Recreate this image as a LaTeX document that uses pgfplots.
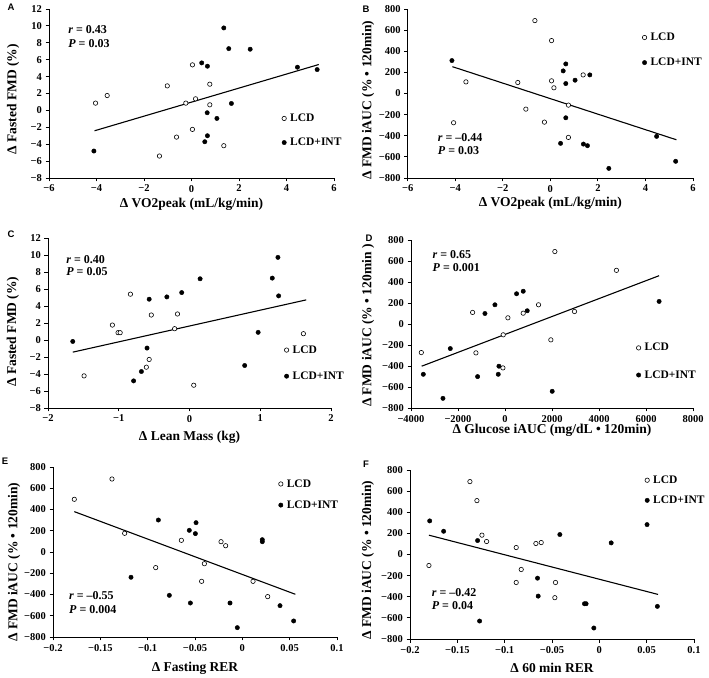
\documentclass[border=0pt]{standalone}
\usepackage{pgfplots}
\pgfplotsset{compat=1.18}
\usepackage{fontspec}
\setmainfont{Liberation Serif}
\setsansfont{Liberation Sans}

\tikzset{st/.style={anchor=west, font=\bfseries\fontsize{12}{14}\selectfont, inner sep=0pt}}
\pgfplotsset{
  pan/.style={
    scale only axis, axis lines*=left, tick align=outside,
    major tick length=3.5pt,
    axis line style={line width=0.9pt},
    every tick/.style={black, line width=0.9pt},
    ticklabel style={font=\bfseries\fontsize{10.5}{12}\selectfont},
    label style={font=\bfseries\fontsize{13.5}{16}\selectfont},
    legend style={draw=none, fill=none, font=\bfseries\fontsize{11.5}{13}\selectfont,
      inner sep=0pt, nodes={inner sep=1pt}, anchor=west, xshift=-4pt},
    legend cell align=left,
    legend image code/.code={\path[draw=none,fill=none] (0pt,-1pt) (8pt,1pt);
      \draw[mark repeat=2,mark phase=2,##1] plot coordinates {(0pt,0pt)(3pt,0pt)(6pt,0pt)};},
    clip=false,
  },
  xl/.style={xlabel style={at={(axis description cs:0.5,#1)},anchor=center}},
  yl/.style 2 args={ylabel style={at={(axis description cs:#1,#2)},anchor=center}},
  op/.style={only marks, mark=*, mark size=2.2pt, mark options={fill=white, draw=black, line width=0.6pt}},
  cl/.style={only marks, mark=*, mark size=2.2pt, mark options={fill=black, draw=black}},
  fit/.style={black, line width=1.1pt, no marks},
  vo/.style={xmin=-6, xmax=6, xtick={-6,-4,...,6}, xticklabels={−6,−4,−2,0,2,4,6},
    xlabel={Δ VO2peak (mL/kg/min)}},
  fmd/.style={ymin=-8, ymax=12, ytick={-8,-6,...,12}, yticklabels={−8,−6,−4,−2,0,2,4,6,8,10,12},
    ylabel={Δ Fasted FMD (\%)}},
  auc/.style={ymin=-800, ymax=800, ytick={-800,-600,...,800},
    yticklabels={−800,−600,−400,−200,0,200,400,600,800}},
  rer/.style={xmin=-0.2, xmax=0.1, xtick={-0.2,-0.15,-0.1,-0.05,0,0.05,0.1},
    xticklabels={−0.2,−0.15,−0.1,−0.05,0,0.05,0.1}},
}

\begin{document}
\begin{tikzpicture}
\path[use as bounding box] (0pt,0pt) rectangle (709pt,677pt);

% A
\begin{axis}[pan, vo, fmd, at={(49pt,499pt)}, anchor=south west, width=285pt, height=169pt,
  xl=-0.154, yl={-0.126}{0.467},
  legend style={at={(axis description cs:0.828,0.281)}, row sep=13pt}]
\addplot[op] coordinates {(-4.04,0.86) (-3.55,1.76) (-1.02,2.9) (0.04,5.39) (-0.24,0.86) (0.17,1.37)
  (0.77,3.1) (0.77,0.66) (0.04,-2.25) (-0.63,-3.16) (-1.35,-5.4) (1.36,-4.18)};
\addplot[cl] coordinates {(-4.11,-4.81) (1.36,9.76) (1.57,7.31) (2.47,7.24) (0.43,5.62) (0.67,5.23)
  (4.46,5.11) (5.29,4.83) (1.68,0.82) (0.66,-0.28) (1.07,-0.95) (0.67,-3.0) (0.56,-3.71)};
\addplot[fit] coordinates {(-4.08,-2.41) (5.36,5.43)};
\legend{LCD,LCD+INT}
\node[st] at (axis description cs:0.067,0.876) {\textit{r} = 0.43};
\node[st] at (axis description cs:0.067,0.797) {\textit{P} = 0.03};
\end{axis}

% B
\begin{axis}[pan, vo, auc, at={(407.7pt,499pt)}, anchor=south west, width=285.3pt, height=169pt,
  ylabel={Δ FMD iAUC (\% • 120min)},
  xl=-0.15, yl={-0.139}{0.46},
  legend style={at={(axis description cs:0.833,0.757)}, row sep=14pt}]
\addplot[op] coordinates {(-0.65,690) (0.05,501) (-3.55,110) (-1.37,104) (0.05,120) (0.15,54)
  (-1.03,-148) (-0.25,-271) (-4.07,-277) (0.76,-110) (0.76,-416) (1.38,176)};
\addplot[cl] coordinates {(-4.14,312) (0.65,280) (0.54,214) (0.65,94) (1.04,126) (1.66,176)
  (0.65,-230) (0.43,-472) (1.39,-479) (1.56,-494) (4.47,-406) (2.46,-709) (5.27,-642)};
\addplot[fit] coordinates {(-4.12,254) (5.3,-438)};
\legend{LCD,LCD+INT}
\node[st] at (axis description cs:0.105,0.238) {\textit{r} = –0.44};
\node[st] at (axis description cs:0.105,0.162) {\textit{P} = 0.03};
\end{axis}

% C
\begin{axis}[pan, fmd, at={(48pt,269pt)}, anchor=south west, width=283pt, height=170pt,
  xmin=-2, xmax=2, xtick={-2,-1,...,2}, xticklabels={−2,−1,0,1,2},
  xlabel={Δ Lean Mass (kg)},
  xl=-0.175, yl={-0.124}{0.449},
  legend style={at={(axis description cs:0.846,0.264)}, row sep=15pt}]
\addplot[op] coordinates {(-0.835,5.39) (-1.09,1.76) (-1.01,0.86) (-0.98,0.86) (-0.54,2.94) (-0.17,3.06)
  (-0.21,1.33) (-0.57,-2.29) (-0.61,-3.2) (-1.49,-4.22) (0.06,-5.32) (1.61,0.74)};
\addplot[cl] coordinates {(-1.65,-0.17) (-0.57,4.8) (-0.32,5.07) (-0.11,5.58) (0.15,7.2) (1.25,9.72)
  (1.17,7.28) (1.26,5.19) (-0.6,-0.95) (-0.68,-3.71) (-0.79,-4.81) (0.97,0.9) (0.78,-3.0)};
\addplot[fit] coordinates {(-1.65,-1.43) (1.65,4.72)};
\legend{LCD,LCD+INT}
\node[st] at (axis description cs:0.064,0.875) {\textit{r} = 0.40};
\node[st] at (axis description cs:0.064,0.8) {\textit{P} = 0.05};
\end{axis}

% D
\begin{axis}[pan, auc, at={(411pt,269pt)}, anchor=south west, width=282pt, height=168pt,
  xmin=-4000, xmax=8000, xtick={-4000,-2000,...,8000},
  xticklabels={−4000,−2000,0,2000,4000,6000,8000},
  xlabel={Δ Glucose iAUC (mg/dL • 120min)},
  ylabel={Δ FMD iAUC (\% • 120min )},
  xl=-0.132, yl={-0.152}{0.49},
  legend style={at={(axis description cs:0.81,0.277)}, row sep=16pt}]
\addplot[op] coordinates {(2121,690) (4742,511) (-1379,110) (123,59) (775,103) (1427,183)
  (2957,119) (-75,-103) (1951,-151) (-1237,-275) (-3561,-272) (-89,-418)};
\addplot[cl] coordinates {(492,288) (775,312) (-429,183) (-854,100) (945,126) (6557,215)
  (-2328,-234) (-3476,-479) (-2640,-708) (-1166,-501) (-259,-402) (-287,-479) (2008,-641)};
\addplot[fit] coordinates {(-3547,-402) (6557,460)};
\legend{LCD,LCD+INT}
\node[st] at (axis description cs:0.076,0.915) {\textit{r} = 0.65};
\node[st] at (axis description cs:0.076,0.838) {\textit{P} = 0.001};
\end{axis}

% E
\begin{axis}[pan, auc, rer, at={(53pt,40pt)}, anchor=south west, width=284pt, height=170pt,
  xlabel={Δ Fasting RER},
  ylabel={Δ FMD iAUC (\% • 120min)},
  xl=-0.184, yl={-0.137}{0.44},
  legend style={at={(axis description cs:0.805,0.838)}, row sep=10pt}]
\addplot[op] coordinates {(-0.1377,687) (-0.1775,496) (-0.1243,176) (-0.0644,110) (-0.0225,97) (-0.0176,59)
  (-0.0401,-110) (-0.0915,-147) (-0.043,-276) (0.0113,-276) (0.0268,-420)};
\addplot[cl] coordinates {(-0.0887,301) (-0.0489,276) (-0.056,204) (-0.0496,173) (0.0211,116) (0.0211,97)
  (-0.1176,-238) (-0.0771,-408) (-0.0549,-480) (-0.013,-480) (-0.0053,-712) (0.0398,-505) (0.0542,-649)};
\addplot[fit] coordinates {(-0.1775,380) (0.056,-398)};
\legend{LCD,LCD+INT}
\node[st] at (axis description cs:0.056,0.241) {\textit{r} = –0.55};
\node[st] at (axis description cs:0.056,0.163) {\textit{P} = 0.004};
\end{axis}

% F
\begin{axis}[pan, auc, rer, at={(410pt,38pt)}, anchor=south west, width=284pt, height=169pt,
  xlabel={Δ 60 min RER},
  ylabel={Δ FMD iAUC (\% • 120min)},
  xl=-0.173, yl={-0.148}{0.467},
  legend style={at={(axis description cs:0.838,0.88)}, row sep=9pt}]
\addplot[op] coordinates {(-0.1367,690) (-0.1293,510) (-0.124,183) (-0.1191,123) (-0.18,-104) (-0.0878,66)
  (-0.067,104) (-0.0614,113) (-0.0825,-142) (-0.0878,-265) (-0.0463,-265) (-0.047,-409)};
\addplot[cl] coordinates {(-0.1792,318) (-0.1645,220) (-0.1286,132) (-0.0417,189) (0.0125,110) (0.0504,283)
  (-0.0653,-224) (-0.0646,-394) (-0.1265,-630) (-0.0157,-466) (-0.014,-466) (-0.0058,-696) (0.0613,-491)};
\addplot[fit] coordinates {(-0.18,183) (0.062,-378)};
\legend{LCD,LCD+INT}
\node[st] at (axis description cs:0.076,0.274) {\textit{r} = –0.42};
\node[st] at (axis description cs:0.076,0.195) {\textit{P} = 0.04};
\end{axis}

% panel letters
\begin{scope}[every node/.style={font=\sffamily\bfseries\fontsize{9.5}{11}\selectfont, inner sep=0pt}]
\node at (11pt,670pt) {A};
\node at (366pt,668pt) {B};
\node at (11pt,443pt) {C};
\node at (369pt,439pt) {D};
\node at (5pt,216pt) {E};
\node at (366pt,213pt) {F};
\end{scope}
\end{tikzpicture}
\end{document}
